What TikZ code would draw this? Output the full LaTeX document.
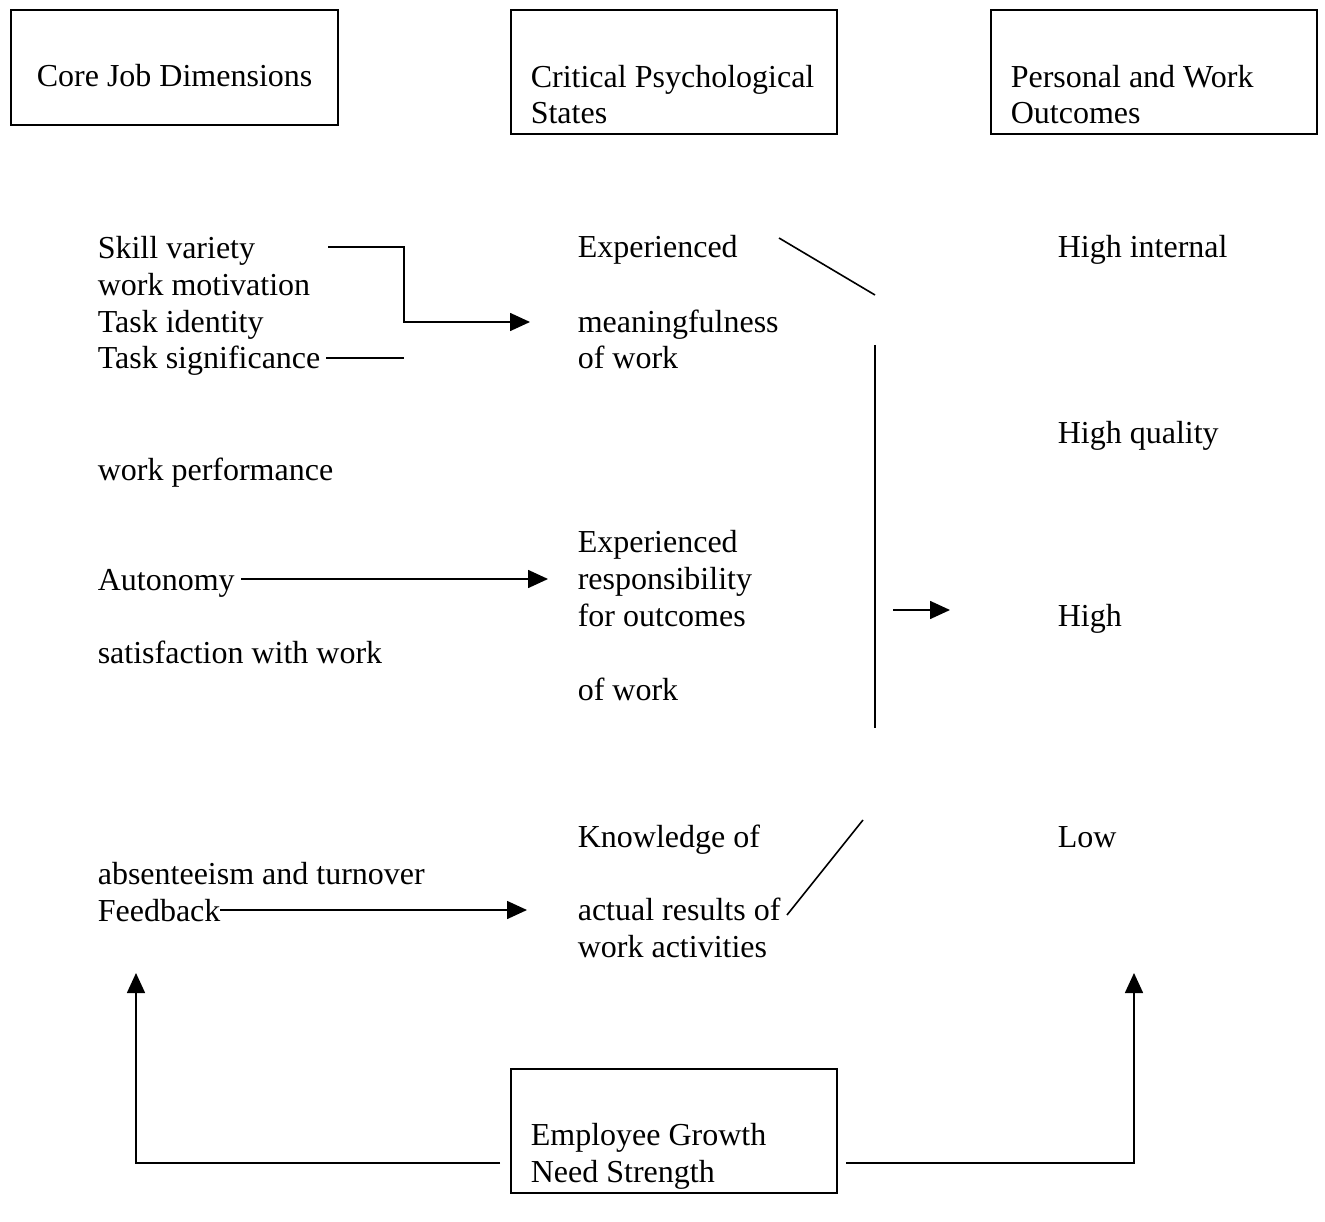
\documentclass[tikz,border=0pt]{standalone}
\usepackage{fontspec}
\setmainfont{Liberation Serif}
\usetikzlibrary{arrows.meta}

\tikzset{
  txt/.style={anchor=base west, inner sep=0pt, align=left,
    font=\fontsize{32}{36.8}\selectfont},
  hdrbox/.style={draw, line width=1.6pt, anchor=north west, inner sep=0pt},
  arr/.style={-{Triangle[length=20pt, width=18pt]}},
}

\begin{document}
\begin{tikzpicture}[x=1pt, y=-1pt, line width=1.6pt]
\useasboundingbox (0,0) rectangle (1325,1222);
\node [hdrbox, minimum width=327pt, minimum height=115pt] (core) at (10,9) {};
\node [hdrbox, minimum width=326pt, minimum height=124pt] (crit) at (510,9) {};
\node [hdrbox, minimum width=326pt, minimum height=124pt] (outc) at (990,9) {};
\node [hdrbox, minimum width=326pt, minimum height=124pt] (grow) at (510,1068) {};
\node [txt] (coret) at (36,87) {Core Job Dimensions};
\node [txt] (critt) at (530,124) {Critical Psychological\\States};
\node [txt] (outct) at (1010,124) {Personal and Work\\Outcomes};
\node [txt] (growt) at (530,1182) {Employee Growth\\Need Strength};
\node [txt] (skill) at (97,369) {Skill variety\\work motivation\\Task identity\\Task significance};
\node [txt] (perf) at (97,480) {work performance};
\node [txt] (auto) at (97,590) {Autonomy};
\node [txt] (satis) at (97,663) {satisfaction with work};
\node [txt] (feed) at (97,921) {absenteeism and turnover\\Feedback};
\node [txt] (exp1) at (577,258) {Experienced};
\node [txt] (mean) at (577,369) {meaningfulness\\of work};
\node [txt] (resp) at (577,626) {Experienced\\responsibility\\for outcomes};
\node [txt] (ofw) at (577,700) {of work};
\node [txt] (know) at (577,847) {Knowledge of};
\node [txt] (act) at (577,957) {actual results of\\work activities};
\node [txt] (hint) at (1057,258) {High internal};
\node [txt] (hqual) at (1057,443) {High quality};
\node [txt] (high) at (1057,626) {High};
\node [txt] (low) at (1057,847) {Low};
\coordinate (sva) at (328,247);
\coordinate (svb) at (404,247);
\coordinate (svc) at (530,322);
\coordinate (tsa) at (326,358);
\coordinate (tsb) at (404,358);
\coordinate (aua) at (241,579);
\coordinate (aub) at (548,579);
\coordinate (fba) at (220,910);
\coordinate (fbb) at (527,910);
\coordinate (dga) at (779,238);
\coordinate (dgb) at (875,295);
\coordinate (vta) at (875,345);
\coordinate (vtb) at (875,728);
\coordinate (hia) at (893,610);
\coordinate (hib) at (950,610);
\coordinate (dba) at (787,915);
\coordinate (dbb) at (863,820);
\coordinate (gla) at (500,1163);
\coordinate (glb) at (136,973);
\coordinate (gra) at (846,1163);
\coordinate (grb) at (1134,973);
\path [draw, arr] (sva) -- (svb) |- (svc);
\path [draw] (tsa) -- (tsb);
\path [draw, arr] (aua) -- (aub);
\path [draw, arr] (fba) -- (fbb);
\path [draw] (dga) -- (dgb);
\path [draw] (vta) -- (vtb);
\path [draw, arr] (hia) -- (hib);
\path [draw] (dba) -- (dbb);
\path [draw, arr] (gla) -| (glb);
\path [draw, arr] (gra) -| (grb);
\end{tikzpicture}
\end{document}
